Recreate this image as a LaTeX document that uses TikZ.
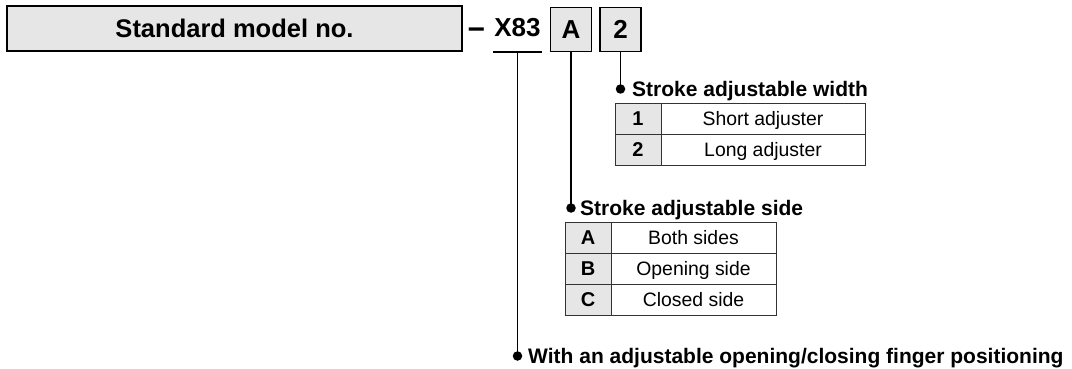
\documentclass[tikz,border=0pt]{standalone}
\usepackage{fontspec}
\setmainfont{Liberation Sans}
\definecolor{boxgray}{HTML}{E6E6E6}
\definecolor{tabline}{HTML}{333333}
\begin{document}
\begin{tikzpicture}[x=1pt,y=-1pt,
  bigbox/.style={draw=black,line width=2.2pt,fill=boxgray,minimum width=455pt,minimum height=45pt,inner sep=0pt,
     font=\fontsize{25.5}{28}\selectfont\bfseries,text height=18.5pt,text depth=0pt},
  selbox/.style={draw=black,line width=1.8pt,fill=boxgray,minimum width=41pt,minimum height=44pt,inner sep=0pt,
     font=\fontsize{26}{28}\selectfont\bfseries,text height=18.5pt,text depth=0pt},
  conn/.style={line width=1.6pt},
  dotmark/.style={circle,fill=black,minimum size=9.5pt,inner sep=0pt},
  title/.style={anchor=base west,inner sep=0pt,font=\fontsize{21}{24}\selectfont\bfseries},
  hcell/.style={draw=tabline,line width=0.9pt,fill=boxgray,minimum width=46pt,minimum height=31pt,inner sep=0pt,
     font=\fontsize{20}{22}\selectfont\bfseries,text height=14pt,text depth=0pt},
  tcell/.style={draw=tabline,line width=0.9pt,fill=white,minimum height=31pt,inner sep=0pt,
     font=\fontsize{19.4}{22}\selectfont,text height=14pt,text depth=0pt}
]
\useasboundingbox (0,0) rectangle (1072,369);

% header row
\node[bigbox] (std) at (234.5,28.5) {Standard model no.};
\node[anchor=base,inner sep=0pt,font=\fontsize{30}{32}\selectfont\bfseries] (dash) at (476.5,39.5) {−};
\node[anchor=south,inner sep=0pt,minimum width=49pt,text height=19pt,text depth=15pt,
      font=\fontsize{26}{28}\selectfont\bfseries] (x83) at (517.5,52) {X83};
\draw[line width=1.6pt] (x83.south west) -- (x83.south east);
\node[selbox] (selA) at (571,29.5) {A};
\node[selbox] (sel2) at (620.5,29.5) {2};

% dots
\node[dotmark] (d1) at (620.5,89) {};
\node[dotmark] (d2) at (571,208) {};
\node[dotmark] (d3) at (517.5,356) {};

% connectors
\draw[conn] (sel2.south) -- (d1.center);
\draw[conn] (selA.south) -- (d2.center);
\draw[conn] (x83.south) -- (d3.center);

% titles
\node[title] (t1) at (632,96) {Stroke adjustable width};
\node[title] (t2) at (580,215) {Stroke adjustable side};
\node[title] (t3) at (528,363) {With an adjustable opening/closing finger positioning};

% table 1
\node[hcell] (h11) at (638,118.5) {1};
\node[hcell] (h12) at (638,149.5) {2};
\node[tcell,minimum width=204pt] (c11) at (763,118.5) {Short adjuster};
\node[tcell,minimum width=204pt] (c12) at (763,149.5) {Long adjuster};

% table 2
\node[hcell] (h21) at (588,237.5) {A};
\node[hcell] (h22) at (588,268.5) {B};
\node[hcell] (h23) at (588,299.5) {C};
\node[tcell,minimum width=165pt] (c21) at (693.5,237.5) {Both sides};
\node[tcell,minimum width=165pt] (c22) at (693.5,268.5) {Opening side};
\node[tcell,minimum width=165pt] (c23) at (693.5,299.5) {Closed side};
\end{tikzpicture}
\end{document}
